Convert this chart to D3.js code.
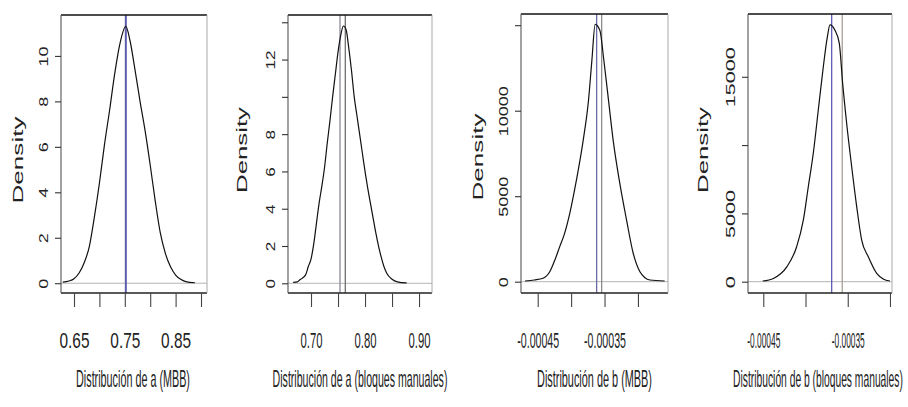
<!DOCTYPE html>
<html>
<head>
<meta charset="utf-8">
<script src="https://cdn.jsdelivr.net/npm/d3@7"></script>
<style>
  html, body { margin: 0; padding: 0; background: #fff; }
  svg { display: block; font-family: "Liberation Sans", Arial, sans-serif; }
</style>
</head>
<body>
<svg id="chart" width="908" height="407"></svg>
<script>
// Bootstrap density estimates for the coefficients a and b

// a, moving block bootstrap
const aMbbX = [0.628, 0.64, 0.65, 0.66, 0.67, 0.68, 0.69, 0.70, 0.71, 0.72, 0.73, 0.74, 0.752,
               0.76, 0.77, 0.78, 0.79, 0.80, 0.81, 0.82, 0.83, 0.84, 0.85, 0.86, 0.87, 0.888];
const aMbbDensity = [0.05, 0.1, 0.2, 0.45, 0.9, 1.6, 2.9, 4.4, 6.1, 7.6, 9.2, 10.5, 11.3,
                     10.7, 9.4, 8.0, 6.7, 5.2, 3.6, 2.2, 1.3, 0.72, 0.36, 0.17, 0.07, 0.02];

// a, manual blocks
const aManX = [0.667, 0.675, 0.68, 0.69, 0.695, 0.70, 0.705, 0.71, 0.715, 0.72, 0.725, 0.73, 0.735,
               0.74, 0.745, 0.75, 0.755, 0.76, 0.765, 0.77, 0.775, 0.78, 0.785, 0.79, 0.795, 0.80,
               0.805, 0.81, 0.815, 0.82, 0.825, 0.83, 0.835, 0.84, 0.85, 0.86, 0.877];
const aManDensity = [0.05, 0.08, 0.2, 0.45, 0.9, 1.3, 2.1, 3.2, 4.3, 5.2, 6.2, 7.5, 8.7,
                     10.0, 11.2, 12.4, 13.3, 13.8, 13.6, 12.6, 11.4, 10.0, 9.0, 8.0, 7.0, 6.0,
                     5.1, 4.3, 3.5, 2.7, 2.0, 1.4, 0.9, 0.55, 0.22, 0.08, 0.02];

// b, moving block bootstrap
const bMbbX = [-0.000469, -0.000455, -0.000442, -0.000432, -0.000424, -0.000417, -0.000410,
               -0.000402, -0.000392, -0.000382, -0.000374, -0.000369, -0.000364, -0.000357,
               -0.000351, -0.000344, -0.000337, -0.000328, -0.000317, -0.000307, -0.000297,
               -0.000290, -0.000282, -0.000260];
const bMbbDensity = [40, 100, 200, 580, 1300, 2050, 2800, 4000, 5950, 8250, 10600, 12900, 15050,
                     14700, 12950, 10600, 8250, 5950, 3600, 1650, 580, 250, 100, 40];

// b, manual blocks
const bManX = [-0.0004507, -0.000438, -0.000422, -0.0004105, -0.0004026, -0.0003967, -0.0003908,
               -0.0003849, -0.000379, -0.0003742, -0.000371, -0.0003651, -0.00036, -0.000356,
               -0.0003513, -0.0003453, -0.0003394, -0.0003335, -0.0003257, -0.0003157,
               -0.000308, -0.0003];
const bManDensity = [50, 240, 1100, 2560, 4500, 6950, 9400, 12550, 15700, 17900, 18800, 18400,
                     17450, 14500, 11600, 8400, 5500, 3050, 1830, 610, 200, 50];

// reference lines (estimates)
const aMbbLines = [0.752];
const aManLines = [0.7537, 0.7635];
const bMbbLines = [-0.0003618, -0.0003543];
const bManLines = [-0.000369, -0.0003565];

// axis ticks and the labels that are printed
const aMbbXTicks = [0.65, 0.70, 0.75, 0.80, 0.85, 0.90];
const aMbbXLabels = ["0.65", "", "0.75", "", "0.85", ""];
const aManXTicks = [0.70, 0.75, 0.80, 0.85, 0.90];
const aManXLabels = ["0.70", "", "0.80", "", "0.90"];
const bXTicks = [-0.00045, -0.00040, -0.00035, -0.00030];
const bXLabels = ["-0.00045", "", "-0.00035", ""];

const aMbbYTicks = [0, 2, 4, 6, 8, 10];
const aMbbYLabels = ["0", "2", "4", "6", "8", "10"];
const aManYTicks = [0, 2, 4, 6, 8, 10, 12, 14];
const aManYLabels = ["0", "2", "4", "6", "8", "", "12", ""];
const bYTicks = [0, 5000, 10000, 15000];
const bMbbYLabels = ["0", "5000", "10000", ""];
const bManYLabels = ["0", "5000", "", "15000"];

const titles = ["Distribución de a (MBB)", "Distribución de a (bloques manuales)",
                "Distribución de b (MBB)", "Distribución de b (bloques manuales)"];

// panel layout
const panels = [
  { box: {l: 61, r: 207, t: 15, b: 293}, xDom: [0.6244, 0.9118], yDom: [-0.43, 11.8],
    xs: aMbbX, ds: aMbbDensity, lines: aMbbLines,
    lineStyle: [{c: "#5c5ca8", w: 2}],
    xTicks: aMbbXTicks, xLabels: aMbbXLabels, yTicks: aMbbYTicks, yLabels: aMbbYLabels,
    xLabLen: 30, yCharLen: 10, title: titles[0], titleX: 133, titleLen: 114,
    densX: 23, densY: 160, densLen: 87 },
  { box: {l: 288, r: 432, t: 15, b: 293}, xDom: [0.6574, 0.924], yDom: [-0.52, 14.39],
    xs: aManX, ds: aManDensity, lines: aManLines,
    lineStyle: [{c: "#8a8a9a", w: 1.3}, {c: "#707070", w: 1.3}],
    xTicks: aManXTicks, xLabels: aManXLabels, yTicks: aManYTicks, yLabels: aManYLabels,
    xLabLen: 22, yCharLen: 9.5, title: titles[1], titleX: 360, titleLen: 175,
    densX: 247, densY: 150, densLen: 86 },
  { box: {l: 521, r: 668, t: 14, b: 293}, xDom: [-0.000475, -0.000255], yDom: [-661, 15655],
    xs: bMbbX, ds: bMbbDensity, lines: bMbbLines,
    lineStyle: [{c: "#6a6aa6", w: 1.3}, {c: "#8c8c8c", w: 1.3}],
    xTicks: bXTicks, xLabels: bXLabels, yTicks: bYTicks, yLabels: bMbbYLabels,
    xLabLen: 42, yCharLen: 10, title: titles[2], titleX: 594.5, titleLen: 115,
    densX: 483, densY: 157, densLen: 87 },
  { box: {l: 748, r: 892, t: 14, b: 293}, xDom: [-0.0004681, -0.0002976], yDom: [-827, 19597],
    xs: bManX, ds: bManDensity, lines: bManLines,
    lineStyle: [{c: "#5050b0", w: 1.2}, {c: "#a8a096", w: 1.3}],
    xTicks: bXTicks, xLabels: bXLabels, yTicks: bYTicks, yLabels: bManYLabels,
    xLabLen: 33, yCharLen: 12, title: titles[3], titleX: 818, titleLen: 170,
    densX: 708, densY: 150, densLen: 86 }
];

const svg = d3.select("#chart");
const ink = "#222";

// Place a text at (x, y), optionally rotated, stretched along its own
// direction so that it spans `len` pixels.
function fitText(sel, x, y, rot, len) {
  sel.attr("x", 0).attr("y", 0).attr("dy", null);
  const w = sel.node().getComputedTextLength() || 1;
  sel.attr("transform", `translate(${x},${y}) rotate(${rot}) scale(${len / w},1)`);
}

panels.forEach(p => {
  const x = d3.scaleLinear().domain(p.xDom).range([p.box.l, p.box.r]);
  const y = d3.scaleLinear().domain(p.yDom).range([p.box.b, p.box.t]);
  const g = svg.append("g");

  // zero baseline
  g.append("line")
    .attr("x1", p.box.l).attr("x2", p.box.r)
    .attr("y1", y(0)).attr("y2", y(0))
    .attr("stroke", "#b4b4b4").attr("stroke-width", 1);

  // reference lines
  p.lines.forEach((v, i) => {
    g.append("line")
      .attr("x1", x(v)).attr("x2", x(v))
      .attr("y1", p.box.t).attr("y2", p.box.b)
      .attr("stroke", p.lineStyle[i].c).attr("stroke-width", p.lineStyle[i].w);
  });

  // density curve
  const pts = p.xs.map((v, i) => [v, p.ds[i]]);
  g.append("path")
    .datum(pts)
    .attr("fill", "none")
    .attr("stroke", "#111")
    .attr("stroke-width", 1.2)
    .attr("d", d3.line().x(d => x(d[0])).y(d => y(d[1])).curve(d3.curveMonotoneX));

  // frame
  g.append("line").attr("x1", p.box.l).attr("x2", p.box.r).attr("y1", p.box.t).attr("y2", p.box.t)
    .attr("stroke", "#111").attr("stroke-width", 1.6);
  g.append("line").attr("x1", p.box.l).attr("x2", p.box.r).attr("y1", p.box.b).attr("y2", p.box.b)
    .attr("stroke", "#222").attr("stroke-width", 1.4);
  g.append("line").attr("x1", p.box.l).attr("x2", p.box.l).attr("y1", p.box.t).attr("y2", p.box.b)
    .attr("stroke", "#555").attr("stroke-width", 1.1);
  g.append("line").attr("x1", p.box.r).attr("x2", p.box.r).attr("y1", p.box.t).attr("y2", p.box.b)
    .attr("stroke", "#aaa").attr("stroke-width", 1);

  // y axis
  const yAxis = g.append("g")
    .attr("transform", `translate(${p.box.l},0)`)
    .call(d3.axisLeft(y).tickValues(p.yTicks).tickSize(6)
      .tickFormat((d, i) => p.yLabels[i]));
  yAxis.select(".domain").remove();
  yAxis.selectAll(".tick line").attr("stroke", "#333").attr("stroke-width", 1.1);
  yAxis.selectAll(".tick text")
    .attr("text-anchor", "middle")
    .attr("font-size", 12.5)
    .attr("fill", ink)
    .each(function (d, i) {
      const s = p.yLabels[i];
      if (s) fitText(d3.select(this), -13.5, 0, -90, s.length * p.yCharLen);
    });

  // x axis
  const xAxis = g.append("g")
    .attr("transform", `translate(0,${p.box.b})`)
    .call(d3.axisBottom(x).tickValues(p.xTicks).tickSize(14)
      .tickFormat((d, i) => p.xLabels[i]));
  xAxis.select(".domain").remove();
  xAxis.selectAll(".tick line").attr("stroke", "#444").attr("stroke-width", 1.1);
  xAxis.selectAll(".tick text")
    .attr("text-anchor", "middle")
    .attr("font-size", 22)
    .attr("fill", ink)
    .each(function (d, i) {
      if (p.xLabels[i]) fitText(d3.select(this), 0, 55, 0, p.xLabLen);
    });

  // axis titles
  const xt = g.append("text")
    .attr("text-anchor", "middle")
    .attr("font-size", 23)
    .attr("fill", ink)
    .text(p.title);
  fitText(xt, p.titleX, 387, 0, p.titleLen);

  const yt = g.append("text")
    .attr("text-anchor", "middle")
    .attr("font-size", 15)
    .attr("fill", ink)
    .text("Density");
  fitText(yt, p.densX, p.densY, -90, p.densLen);
});
</script>
</body>
</html>
